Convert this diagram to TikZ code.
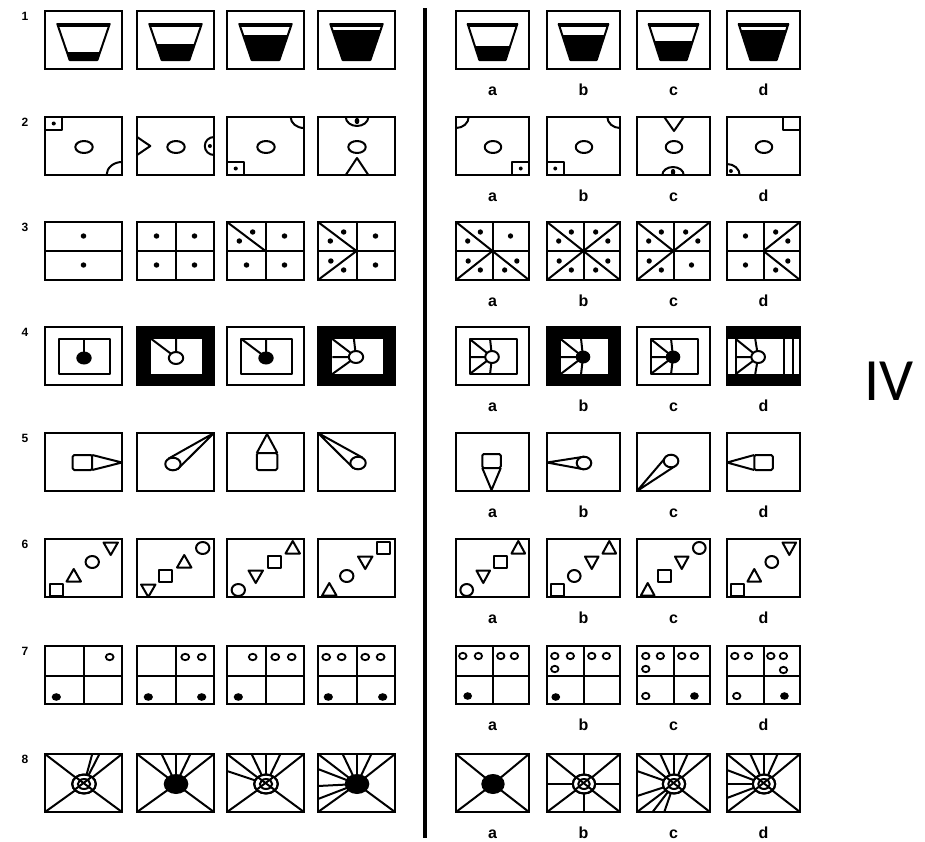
\documentclass[tikz,border=0pt]{standalone}
\usepackage{fontspec}
\setmainfont{Liberation Sans}
\newfontfamily\ivfont{Carlito}
\tikzset{
 frame/.style={line width=2.4pt},
 fig/.style={line width=2pt, line join=round},
 lbl/.style={font=\bfseries\fontsize{16}{16}\selectfont, inner sep=0pt, anchor=base},
 num/.style={font=\bfseries\fontsize{12}{12}\selectfont, inner sep=0pt, anchor=base},
}
% box placement
\newcommand\LB[3]{\begin{scope}[shift={(#1,#2)},xscale=1.0267]#3\draw[frame] (0,0) rectangle (75,58);\end{scope}}
\newcommand\RB[3]{\begin{scope}[shift={(#1,#2)},xscale=0.9733]#3\draw[frame] (0,0) rectangle (75,58);\end{scope}}
% labels
\newcommand\labs[2]{%
 \node[lbl] (lab#2a) at (492.5,#1+84) {a};
 \node[lbl] (lab#2b) at (583.5,#1+84) {b};
 \node[lbl] (lab#2c) at (673.5,#1+84) {c};
 \node[lbl] (lab#2d) at (763.5,#1+84) {d};
 \node[num] (num#2) at (25,#1+9) {#2};}
% row 1
\newcommand\bucket[1]{%
 \begin{scope}\clip (12,13) -- (63,13) -- (51,49) -- (24,49) -- cycle; \fill (0,#1) rectangle (75,58);\end{scope}
 \draw[fig] (12,13) -- (63,13) -- (51,49) -- (24,49) -- cycle;
 \draw[line width=3.5pt] (12,14) -- (63,14);}
% row 2
\newcommand\ctr{\draw[fig] (38,30) ellipse [x radius=8.5, y radius=6];}
\newcommand\sqdot[2]{\draw[fig] (#1,#2) rectangle ++(17,13); \fill (#1+8.5,#2+6.5) circle [radius=2];}
\newcommand\qBR{\draw[fig] (60,58) arc [start angle=180, end angle=270, x radius=15, y radius=13];}
\newcommand\qTL{\draw[fig] (13,0) arc [start angle=0, end angle=90, x radius=13, y radius=11];}
\newcommand\qTR{\draw[fig] (75,11) arc [start angle=90, end angle=180, x radius=13, y radius=11];}
\newcommand\qBL{\draw[fig] (0,47) arc [start angle=270, end angle=360, x radius=13, y radius=11];}
% row 3
\newcommand\hl{\draw[fig] (0,29) -- (75,29);}
\newcommand\vl{\draw[fig] (37.5,0) -- (37.5,58);}
\newcommand\dt[2]{\fill (#1,#2) circle [radius=2.7];}
\newcommand\TLs{\dt{19}{14}}
\newcommand\TLd{\draw[fig] (0,0) -- (37.5,29); \dt{25}{10}\dt{12}{19}}
\newcommand\TRs{\dt{56}{14}}
\newcommand\TRd{\draw[fig] (75,0) -- (37.5,29); \dt{50}{10}\dt{62.5}{19}}
\newcommand\BLs{\dt{19}{43}}
\newcommand\BLd{\draw[fig] (0,58) -- (37.5,29); \dt{12.5}{39}\dt{25}{48}}
\newcommand\BRs{\dt{56}{43}}
\newcommand\BRd{\draw[fig] (75,58) -- (37.5,29); \dt{62.5}{39}\dt{50}{48}}
% row 5
\newcommand\cone[4]{\draw[fig] (#1) -- (#2) -- (#3); \draw[fig,fill=white] (#4) ellipse [x radius=7.5, y radius=6.3];}
% row 6
\newcommand\Sq[2]{\draw[fig] (#1-6.5,#2-6) rectangle (#1+6.5,#2+6);}
\newcommand\Ci[2]{\draw[fig] (#1,#2) ellipse [x radius=6.5, y radius=6];}
\newcommand\Tu[2]{\draw[fig] (#1-7,#2+5.5) -- (#1+7,#2+5.5) -- (#1,#2-7) -- cycle;}
\newcommand\Td[2]{\draw[fig] (#1-7,#2-5.5) -- (#1+7,#2-5.5) -- (#1,#2+7) -- cycle;}
% row 7
\newcommand\grid{\draw[fig] (0,30) -- (75,30) (38,0) -- (38,58);}
\newcommand\ho[2]{\draw[line width=1.8pt] (#1,#2) ellipse [x radius=3.8, y radius=3.2];}
\newcommand\fd[2]{\fill (#1,#2) ellipse [x radius=4.5, y radius=3.8];}
% row 8
\newcommand\ray[2]{\draw[fig] (38,30) -- (#1,#2);}
\newcommand\diags{\ray{0}{0}\ray{75}{0}\ray{0}{58}\ray{75}{58}}
\newcommand\topr{\ray{24}{0}\ray{38}{0}\ray{52}{0}}
\newcommand\ringc{%
 \draw[fig,fill=white] (38,30) ellipse [x radius=11.5, y radius=9.5];
 \begin{scope}\clip (38,30) ellipse [x radius=11.5, y radius=9.5];
 \draw[fig] (0,0) -- (75,58) (75,0) -- (0,58);\end{scope}
 \draw[fig] (38,30) ellipse [x radius=6, y radius=5];
 \draw[fig] (38,30) ellipse [x radius=11.5, y radius=9.5];}
\newcommand\blob{\fill (38,30) ellipse [x radius=12, y radius=10];}
\begin{document}
\begin{tikzpicture}[x=1pt,y=-1pt]
\useasboundingbox (0,0) rectangle (925,841);
\fill[white] (0,0) rectangle (925,841);

% divider
\draw[line width=4.5pt] (425,8) -- (425,838);

% ---- row 1
\LB{45}{11}{\bucket{41}}
\LB{137}{11}{\bucket{33}}
\LB{227}{11}{\bucket{24}}
\LB{318}{11}{\bucket{19}}
\RB{456}{11}{\bucket{35}}
\RB{547}{11}{\bucket{24}}
\RB{637}{11}{\bucket{30}}
\RB{727}{11}{\bucket{19}}
\labs{11}{1}

% ---- row 2
\LB{45}{117}{\sqdot{0}{0}\qBR\ctr}
\LB{137}{117}{\draw[fig] (0,20) -- (13,29) -- (0,38); \ctr
 \draw[fig] (75,38) arc [start angle=90, end angle=270, x radius=9, y radius=9]; \fill (71,29) circle [radius=2];}
\LB{227}{117}{\qTR\sqdot{0}{45}\ctr}
\LB{318}{117}{\draw[fig] (49,0) arc [start angle=0, end angle=180, x radius=11, y radius=9]; \fill (38,4) ellipse [x radius=2.3, y radius=3.2];
 \draw[fig] (27,58) -- (38,41) -- (49,58); \ctr}
\RB{456}{117}{\qTL\sqdot{58}{45}\ctr}
\RB{547}{117}{\qTR\sqdot{0}{45}\ctr}
\RB{637}{117}{\draw[fig] (28,0) -- (38,14) -- (48,0); \ctr
 \draw[fig] (26,58) arc [start angle=180, end angle=360, x radius=11, y radius=8]; \fill (37,55) ellipse [x radius=2.3, y radius=3.2];}
\RB{727}{117}{\draw[fig] (58,0) rectangle (75,13); \qBL \fill (4,54) circle [radius=2]; \ctr}
\labs{117}{2}

% ---- row 3
\LB{45}{222}{\hl\dt{37.5}{14}\dt{37.5}{43}}
\LB{137}{222}{\hl\vl\TLs\TRs\BLs\BRs}
\LB{227}{222}{\hl\vl\TLd\TRs\BLs\BRs}
\LB{318}{222}{\hl\vl\TLd\TRs\BLd\BRs}
\RB{456}{222}{\hl\vl\TLd\TRs\BLd\BRd}
\RB{547}{222}{\hl\vl\TLd\TRd\BLd\BRd}
\RB{637}{222}{\hl\vl\TLd\TRd\BLd\BRs}
\RB{727}{222}{\hl\vl\TLs\TRd\BLs\BRd}
\labs{222}{3}

% ---- row 4
\LB{45}{327}{\draw[fig] (14,12) rectangle (63,47); \draw[fig] (38,12) -- (38,30);
 \fill (38,31) ellipse [x radius=7.5, y radius=6.5];}
\LB{137}{327}{\fill (0,0) rectangle (75,58); \fill[white] (14,12) rectangle (63,47);
 \draw[fig] (38,12) -- (38,30) (14,12) -- (36,29); \draw[fig,fill=white] (38,31) ellipse [x radius=7, y radius=6];}
\LB{227}{327}{\draw[fig] (14,12) rectangle (63,47);
 \draw[fig] (38,12) -- (38,30) (14,12) -- (36,29); \fill (38,31) ellipse [x radius=7.5, y radius=6.5];}
\LB{318}{327}{\fill (0,0) rectangle (75,58); \fill[white] (14,12) rectangle (63,47);
 \draw[fig] (37,30) -- (14,12) (37,30) -- (35,12) (37,30) -- (14,30) (37,30) -- (14,47);
 \draw[fig,fill=white] (37,30) ellipse [x radius=7, y radius=6];}
\RB{456}{327}{\draw[fig] (14,12) rectangle (63,47);
 \draw[fig] (37,30) -- (14,12) (37,30) -- (35,12) (37,30) -- (14,30) (37,30) -- (14,47) (37,30) -- (35,47);
 \draw[fig,fill=white] (37,30) ellipse [x radius=7, y radius=6];}
\RB{547}{327}{\fill (0,0) rectangle (75,58); \fill[white] (14,12) rectangle (63,47);
 \draw[fig] (37,30) -- (14,12) (37,30) -- (35,12) (37,30) -- (14,30) (37,30) -- (14,47) (37,30) -- (35,47);
 \fill (37,30) ellipse [x radius=7.5, y radius=6.5];}
\RB{637}{327}{\draw[fig] (14,12) rectangle (63,47);
 \draw[fig] (37,30) -- (14,12) (37,30) -- (35,12) (37,30) -- (14,30) (37,30) -- (14,47) (37,30) -- (35,47);
 \fill (37,30) ellipse [x radius=7.5, y radius=6.5];}
\RB{727}{327}{\fill (0,0) rectangle (75,12); \fill (0,47) rectangle (75,58);
 \draw[fig] (9,12) -- (9,47) (59,12) -- (59,47) (68,12) -- (68,47);
 \draw[fig] (32,30) -- (9,12) (32,30) -- (29,12) (32,30) -- (9,30) (32,30) -- (9,47) (32,30) -- (29,47);
 \draw[fig,fill=white] (32,30) ellipse [x radius=7, y radius=6];}
\labs{327}{4}

% ---- row 5
\LB{45}{433}{\draw[fig,rounded corners=1.5pt] (27,22) rectangle (46,37); \draw[fig] (46,22) -- (75,29.5) -- (46,37);}
\LB{137}{433}{\cone{30.7,25.6}{75,0}{39.3,36.4}{35,31}}
\LB{227}{433}{\draw[fig,rounded corners=1.5pt] (29,20) rectangle (49,37); \draw[fig] (29,20) -- (39,1) -- (49,20);}
\LB{318}{433}{\cone{43.3,24.6}{0,0}{34.7,35.4}{39,30}}
\RB{456}{433}{\draw[fig,rounded corners=1.5pt] (27,21) rectangle (46,35); \draw[fig] (27,35) -- (36.5,57) -- (46,35);}
\RB{547}{433}{\cone{38,23.7}{0,29.5}{38,36.3}{38,30}}
\RB{637}{433}{\cone{39.5,32.8}{0,58}{30.5,23.2}{35,28}}
\RB{727}{433}{\draw[fig,rounded corners=1.5pt] (28,22) rectangle (47,37); \draw[fig] (28,22) -- (0,29.5) -- (28,37);}
\labs{433}{5}

% ---- row 6
\LB{45}{539}{\Sq{11}{51}\Tu{28}{37}\Ci{46}{23}\Td{64}{9}}
\LB{137}{539}{\Td{11}{51}\Sq{28}{37}\Tu{46}{23}\Ci{64}{9}}
\LB{227}{539}{\Ci{11}{51}\Td{28}{37}\Sq{46}{23}\Tu{64}{9}}
\LB{318}{539}{\Tu{11}{51}\Ci{28}{37}\Td{46}{23}\Sq{64}{9}}
\RB{456}{539}{\Ci{11}{51}\Td{28}{37}\Sq{46}{23}\Tu{64}{9}}
\RB{547}{539}{\Sq{11}{51}\Ci{28}{37}\Td{46}{23}\Tu{64}{9}}
\RB{637}{539}{\Tu{11}{51}\Sq{28}{37}\Td{46}{23}\Ci{64}{9}}
\RB{727}{539}{\Sq{11}{51}\Tu{28}{37}\Ci{46}{23}\Td{64}{9}}
\labs{539}{6}

% ---- row 7
\LB{45}{646}{\grid\ho{63}{11}\fd{11}{51}}
\LB{137}{646}{\grid\ho{47}{11}\ho{63}{11}\fd{11}{51}\fd{63}{51}}
\LB{227}{646}{\grid\ho{25}{11}\ho{47}{11}\ho{63}{11}\fd{11}{51}}
\LB{318}{646}{\grid\ho{8}{11}\ho{23}{11}\ho{46}{11}\ho{61}{11}\fd{10}{51}\fd{63}{51}}
\RB{456}{646}{\grid\ho{7}{10}\ho{23}{10}\ho{46}{10}\ho{60}{10}\fd{12}{50}}
\RB{547}{646}{\grid\ho{8}{10}\ho{24}{10}\ho{8}{23}\ho{46}{10}\ho{61}{10}\fd{9}{51}}
\RB{637}{646}{\grid\ho{9}{10}\ho{24}{10}\ho{9}{23}\ho{46}{10}\ho{59}{10}\ho{9}{50}\fd{59}{50}}
\RB{727}{646}{\grid\ho{8}{10}\ho{22}{10}\ho{45}{10}\ho{58}{10}\ho{58}{24}\ho{10}{50}\fd{59}{50}}
\labs{646}{7}

% ---- row 8
\LB{45}{754}{\diags\ray{46}{0}\ray{53}{0}\ringc}
\LB{137}{754}{\diags\topr\blob}
\LB{227}{754}{\diags\topr\ray{0}{17}\ringc}
\LB{318}{754}{\diags\topr\ray{0}{15}\ray{0}{32}\ray{0}{45}\blob}
\RB{456}{754}{\diags\blob}
\RB{547}{754}{\diags\ray{38}{0}\ray{38}{58}\ray{0}{30}\ray{75}{30}\ringc}
\RB{637}{754}{\diags\topr\ray{0}{17}\ray{0}{42}\ray{16}{58}\ray{28}{58}\ringc}
\RB{727}{754}{\diags\topr\ray{0}{16}\ray{0}{30}\ray{0}{44}\ringc}
\labs{754}{8}

% IV
\node[anchor=base west, inner sep=0pt, font=\ivfont\fontsize{60}{60}\selectfont] (iv) at (864,400) {IV};
\end{tikzpicture}
\end{document}
